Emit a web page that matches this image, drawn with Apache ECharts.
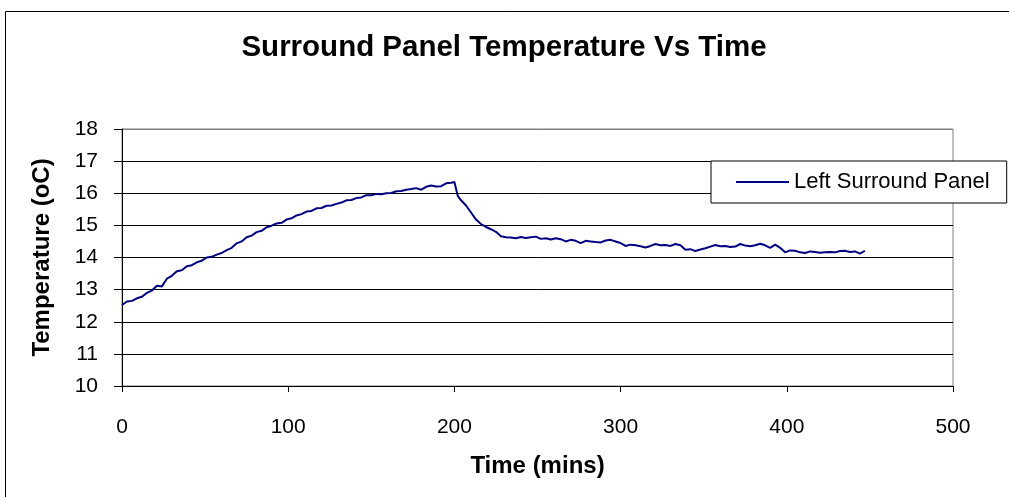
<!DOCTYPE html>
<html>
<head>
<meta charset="utf-8">
<script src="https://cdn.jsdelivr.net/npm/echarts@6/dist/echarts.min.js"></script>
<style>
  html, body { margin: 0; padding: 0; background: #fff; }
  #chart { width: 1009px; height: 497px; }
</style>
</head>
<body>
<div id="chart"></div>
<script>
// Logged temperature of the left surround panel (minutes, °C)
const timeMins = [
  0, 3, 6, 9, 12, 15, 18, 21, 24, 27, 30, 33, 36, 39, 42, 45, 48, 51, 54, 57,
  60, 63, 66, 69, 72, 75, 78, 81, 84, 87, 90, 93, 96, 99, 102, 105, 108, 111, 114, 117,
  120, 123, 126, 129, 132, 135, 138, 141, 144, 147, 150, 153, 156, 159, 162, 165, 168, 171, 174, 177,
  180, 183, 186, 189, 192, 195, 198, 200, 202, 204, 207, 210, 213, 216, 219, 222, 225, 228, 231, 234,
  237, 240, 243, 246, 249, 252, 255, 258, 261, 264, 267, 270, 273, 276, 279, 282, 285, 288, 291, 294,
  297, 300, 303, 306, 309, 312, 315, 318, 321, 324, 327, 330, 333, 336, 339, 342, 345, 348, 351, 354,
  357, 360, 363, 366, 369, 372, 375, 378, 381, 384, 387, 390, 393, 396, 399, 402, 405, 408, 411, 414,
  417, 420, 423, 426, 429, 432, 435, 438, 441, 444, 447
];
const leftPanelTemp = [
  12.52, 12.63, 12.65, 12.73, 12.78, 12.90, 12.97, 13.12, 13.10, 13.34, 13.43, 13.57, 13.60, 13.73, 13.76, 13.85, 13.90, 14.00, 14.02, 14.09,
  14.14, 14.23, 14.30, 14.44, 14.50, 14.63, 14.68, 14.79, 14.83, 14.94, 14.99, 15.06, 15.08, 15.18, 15.22, 15.31, 15.35, 15.43, 15.45, 15.53,
  15.54, 15.61, 15.62, 15.67, 15.71, 15.78, 15.79, 15.85, 15.87, 15.94, 15.94, 15.98, 15.97, 16.00, 16.01, 16.06, 16.07, 16.11, 16.13, 16.16,
  16.11, 16.20, 16.24, 16.21, 16.22, 16.31, 16.33, 16.35, 15.92, 15.78, 15.62, 15.40, 15.18, 15.04, 14.95, 14.88, 14.80, 14.66, 14.63, 14.62,
  14.60, 14.64, 14.61, 14.63, 14.65, 14.58, 14.60, 14.56, 14.60, 14.57, 14.50, 14.55, 14.52, 14.45, 14.52, 14.50, 14.48, 14.47, 14.53, 14.55,
  14.50, 14.45, 14.36, 14.40, 14.38, 14.35, 14.31, 14.36, 14.42, 14.38, 14.39, 14.36, 14.42, 14.38, 14.24, 14.26, 14.20, 14.25, 14.29, 14.34,
  14.39, 14.35, 14.36, 14.33, 14.34, 14.42, 14.37, 14.35, 14.38, 14.43, 14.38, 14.30, 14.40, 14.30, 14.16, 14.22, 14.21, 14.16, 14.14, 14.19,
  14.17, 14.15, 14.16, 14.17, 14.16, 14.20, 14.21, 14.17, 14.19, 14.12, 14.21
];
const seriesName = 'Left Surround Panel';

const chart = echarts.init(document.getElementById('chart'), null, { renderer: 'canvas' });

const points = timeMins.map((t, i) => [t, leftPanelTemp[i]]);

// Gridlines are black; the one along the top edge of the plot is grey like the frame
const gridLineColors = ['#000', '#000', '#000', '#000', '#000', '#000', '#000', '#000', '#808080'];

chart.setOption({
  backgroundColor: '#ffffff',
  animation: false,
  textStyle: { fontFamily: 'Liberation Sans, Arial, sans-serif', color: '#000' },
  title: {
    text: 'Surround Panel Temperature Vs Time',
    left: 499,
    textAlign: 'center',
    top: 28,
    textStyle: { fontSize: 29.5, fontWeight: 'bold', color: '#000', fontFamily: 'Liberation Sans, Arial, sans-serif' }
  },
  graphic: [
    {
      type: 'rect',
      z: -10,
      shape: { x: 5.5, y: 11.5, width: 1020, height: 520 },
      style: { fill: 'none', stroke: '#000', lineWidth: 1 },
      silent: true
    }
  ],
  legend: {
    left: 711,
    top: 161,
    padding: [10, 17, 10, 25],
    icon: 'rect',
    itemWidth: 53,
    itemHeight: 2,
    itemGap: 5,
    backgroundColor: '#fff',
    borderColor: '#000',
    borderWidth: 1,
    borderRadius: 0,
    textStyle: { fontSize: 22, color: '#000', fontFamily: 'Liberation Sans, Arial, sans-serif' },
    data: [{ name: seriesName }]
  },
  grid: {
    left: 122,
    right: 56,
    top: 129,
    bottom: 111,
    show: true,
    borderColor: '#808080',
    borderWidth: 1,
    backgroundColor: '#fff'
  },
  xAxis: {
    type: 'value',
    min: 0,
    max: 500,
    interval: 100,
    name: 'Time (mins)',
    nameLocation: 'middle',
    nameGap: 68,
    nameTextStyle: { fontSize: 24, fontWeight: 'bold', color: '#000' },
    axisLine: { show: true, onZero: false, lineStyle: { color: '#000', width: 1 } },
    axisTick: { show: true, inside: false, length: 6, lineStyle: { color: '#000' } },
    axisLabel: { fontSize: 21, color: '#000', margin: 31 },
    splitLine: { show: false }
  },
  yAxis: {
    type: 'value',
    min: 10,
    max: 18,
    interval: 1,
    name: 'Temperature (oC)',
    nameLocation: 'middle',
    nameGap: 68,
    nameRotate: 90,
    nameTextStyle: { fontSize: 24, fontWeight: 'bold', color: '#000' },
    axisLine: { show: true, lineStyle: { color: '#000', width: 1 } },
    axisTick: { show: true, inside: false, length: 8, lineStyle: { color: '#000' } },
    axisLabel: { fontSize: 21, color: '#000', margin: 24 },
    splitLine: { show: true, lineStyle: { color: gridLineColors, width: 1 } }
  },
  series: [
    {
      name: seriesName,
      type: 'line',
      data: points,
      symbol: 'none',
      showSymbol: false,
      smooth: false,
      lineStyle: { color: '#000080', width: 2 },
      itemStyle: { color: '#000080' }
    }
  ]
});
</script>
</body>
</html>
